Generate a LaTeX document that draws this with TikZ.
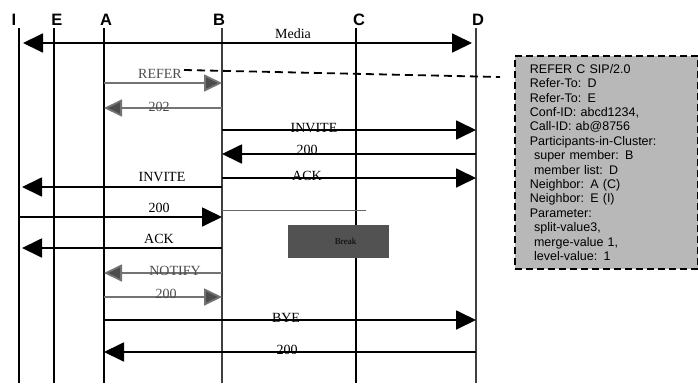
\documentclass[tikz,border=0pt]{standalone}
\usepackage{fontspec}
\setmainfont{Liberation Serif}
\setsansfont{Liberation Sans}
\usetikzlibrary{arrows.meta}

\begin{document}
\begin{tikzpicture}[x=1pt,y=-1pt,line width=1.8pt,
  head/.style={font=\fontsize{16.5}{18}\sffamily\bfseries\selectfont,inner sep=0pt},
  lbl/.style={font=\fontsize{14}{16}\selectfont,inner sep=0pt},
  sig/.style={-{Triangle[length=20pt,width=19pt]}},
  media/.style={{Triangle[length=20pt,width=19pt]}-{Triangle[length=20pt,width=19pt]}},
  faint/.style={draw=black!55,-{Triangle[length=18pt,width=17pt,fill=black!70]}},
  notebox/.style={draw,dash pattern=on 7pt off 4pt,fill=black!28,anchor=north west,
    font=\fontsize{12.5}{14.4}\sffamily\selectfont,align=left,
    text width=153pt,inner xsep=15pt,inner ysep=7pt,minimum height=213pt}]
\useasboundingbox (0,0) rectangle (698,383);

%%% lifelines %%%%
%% labels
\node[head] (I) at (14,20) {I};
\node[head] (E) at (57,20) {E};
\node[head] (A) at (106,20) {A};
\node[head] (B) at (219,20) {B};
\node[head] (C) at (359,20) {C};
\node[head] (D) at (478,20) {D};

%% edges
\coordinate (Itop) at (19,28);  \coordinate (Ibot) at (19,383);
\coordinate (Etop) at (54,28);  \coordinate (Ebot) at (54,383);
\coordinate (Atop) at (104,28); \coordinate (Abot) at (104,383);
\coordinate (Btop) at (222,28); \coordinate (Bbot) at (222,383);
\coordinate (Ctop) at (356,28); \coordinate (Cbot) at (356,383);
\coordinate (Dtop) at (476,28); \coordinate (Dbot) at (476,383);
\draw (Itop) -- (Ibot);
\draw (Etop) -- (Ebot);
\draw (Atop) -- (Abot);
\draw[black!75] (Btop) -- (Bbot);
\draw (Ctop) -- (Cbot);
\draw[black!75] (Dtop) -- (Dbot);

%%% messages %%%%
%% edges
\draw[media] ([xshift=4pt]Itop |- 0,43) -- ([xshift=-4pt]Dtop |- 0,43);
\draw[faint] (Atop |- 0,83) -- (Btop |- 0,83);
\draw[faint] (Btop |- 0,108) -- (Atop |- 0,108);
\draw[sig] (Btop |- 0,130) -- (Dtop |- 0,130);
\draw[sig] (Dtop |- 0,154) -- (Btop |- 0,154);
\draw[sig] (Btop |- 0,178) -- (Dtop |- 0,178);
\draw[sig] (Btop |- 0,187) -- ([xshift=3pt]Itop |- 0,187);
\draw[sig] (Itop |- 0,217) -- (Btop |- 0,217);
\draw[draw=black!60,line width=1pt] (Btop |- 0,210) -- (366,210);
\draw[sig] (Btop |- 0,248) -- ([xshift=3pt]Itop |- 0,248);
\draw[faint] (Btop |- 0,273) -- (Atop |- 0,273);
\draw[faint] (Atop |- 0,297) -- (Btop |- 0,297);
\draw[sig] (Atop |- 0,320) -- (Dtop |- 0,320);
\draw[sig] (Dtop |- 0,352) -- (Atop |- 0,352);

%% labels
\node[lbl] (media) at (293,34) {Media};
\node[lbl,text=black!70] (refer) at (160,74) {REFER};
\node[lbl,text=black!70] (ok202) at (159,107) {202};
\node[lbl] (invD) at (314,128) {INVITE};
\node[lbl] (okB) at (307,150) {200};
\node[lbl] (ackD) at (307,176) {ACK};
\node[lbl] (invI) at (162,177) {INVITE};
\node[lbl] (okI) at (159,208) {200};
\node[lbl] (ackI) at (159,239) {ACK};
\node[lbl,text=black!70] (notify) at (175,271) {NOTIFY};
\node[lbl,text=black!70] (okA) at (166,294) {200};
\node[lbl] (bye) at (286,318) {BYE};
\node[lbl] (okD) at (287,350) {200};

%%% split box %%%%
\node[fill=black!68,minimum width=101pt,minimum height=33pt,inner sep=0pt,
  font=\fontsize{9}{10}\selectfont] (brk) at (338.5,241.5) {\hspace*{14pt}\raisebox{-6pt}{Break}};

%%% REFER body %%%%
\node[notebox] (note) at (514,55) {REFER C SIP/2.0\\
Refer-To: D\\
Refer-To: E\\
Conf-ID: abcd1234,\\
Call-ID: ab@8756\\
Participants-in-Cluster:\\
\ super member: B\\
\ member list: D\\
Neighbor: A (C)\\
Neighbor: E (I)\\
Parameter:\\
\ split-value3,\\
\ merge-value 1,\\
\ level-value: 1};

\coordinate (dash0) at (184,70);
\coordinate (dash1) at (500,77);
\draw[dash pattern=on 8pt off 5pt] (dash0) -- (dash1);

\end{tikzpicture}
\end{document}
